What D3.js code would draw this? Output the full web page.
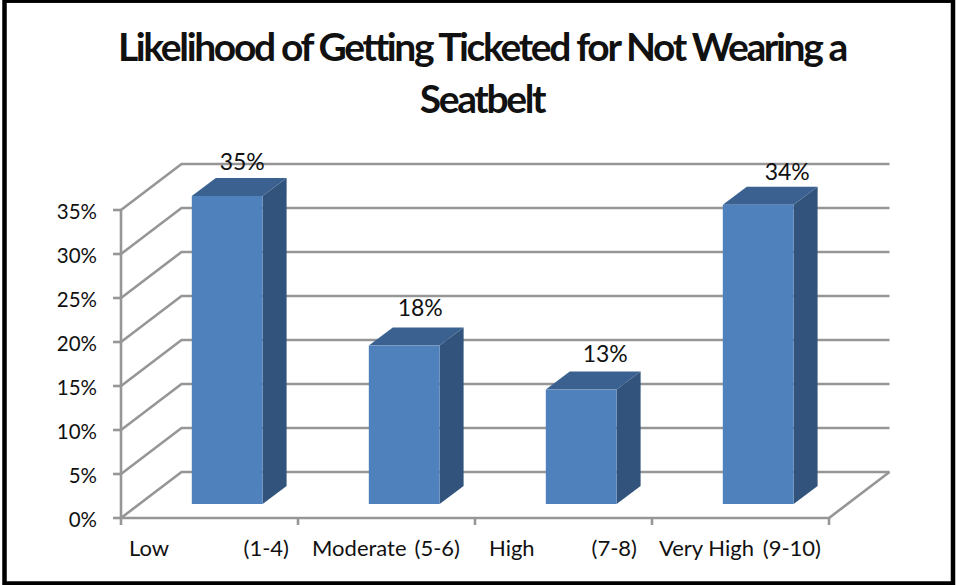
<!DOCTYPE html>
<html><head><meta charset="utf-8">
<script src="https://cdnjs.cloudflare.com/ajax/libs/d3/7.8.5/d3.min.js"></script>
<style>html,body{margin:0;padding:0;background:#fff}svg{display:block}text{font-family:Lato,"Open Sans",sans-serif;fill:#111}</style>
</head><body><svg id="c" width="956" height="585"></svg>
<script>
const categories=["Low","Moderate","High","Very High"];
const ranges=["(1-4)","(5-6)","(7-8)","(9-10)"];
const values=[35,18,13,34];
const valueLabels=["35%","18%","13%","34%"];
const tickValues=[0,5,10,15,20,25,30,35];
const titleLines=["Likelihood of Getting Ticketed for Not Wearing a","Seatbelt"];
const svg=d3.select("#c");
svg.append("rect").attr("x",4.5).attr("y",0.7).attr("width",948.5).attr("height",582.8).attr("fill","#fff").attr("stroke","#000").attr("stroke-width",4.5);
const x=d3.scaleBand().domain(categories).range([121,829]);
const y=d3.scaleLinear().domain([0,35]).range([518,210]);
const dx=60.5,dy=-46,grey="#969696";
const g=svg.append("g").attr("fill","none").attr("stroke",grey).attr("stroke-width",2.6);
tickValues.forEach(t=>{
  g.append("polyline").attr("points",`${x.range()[0]},${y(t)} ${x.range()[0]+dx},${y(t)+dy} ${x.range()[1]+dx},${y(t)+dy}`);
});
g.append("line").attr("x1",121).attr("x2",121).attr("y1",y(35)).attr("y2",y(0)+7);
g.append("line").attr("x1",121).attr("x2",829).attr("y1",y(0)).attr("y2",y(0));
g.append("line").attr("x1",829).attr("y1",y(0)).attr("x2",829+dx).attr("y2",y(0)+dy);
tickValues.forEach(t=>g.append("line").attr("x1",113).attr("x2",121).attr("y1",y(t)).attr("y2",y(t)));
categories.forEach(c=>g.append("line").attr("x1",x(c)+x.bandwidth()).attr("x2",x(c)+x.bandwidth()).attr("y1",y(0)).attr("y2",y(0)+7));
const bw=x.bandwidth()*0.4,bo=x.bandwidth()*0.4,ddx=24,ddy=-18,lift=14;
const labelNudgeX=[15,16,24,29],labelNudgeY=[8,12,10,7];
const catX=[129,312,489,659],rangeEndX=[289,460,637,821];
categories.forEach((c,i)=>{
  const x0=x(c)+bo,x1=x0+bw,yb=y(0)-lift,yt=y(values[i])-lift;
  svg.append("polygon").attr("points",`${x1},${yt} ${x1+ddx},${yt+ddy} ${x1+ddx},${yb+ddy} ${x1},${yb}`).attr("fill","#31537c");
  svg.append("polygon").attr("points",`${x0},${yt} ${x0+ddx},${yt+ddy} ${x1+ddx},${yt+ddy} ${x1},${yt}`).attr("fill","#3a6190");
  svg.append("rect").attr("x",x0).attr("y",yt).attr("width",bw).attr("height",yb-yt).attr("fill","#4f81bd");
  svg.append("text").attr("x",x0+bw/2+labelNudgeX[i]).attr("y",yt+ddy-labelNudgeY[i]).attr("text-anchor","middle").attr("font-size",23).text(valueLabels[i]);
  svg.append("text").attr("x",catX[i]).attr("y",556).attr("font-size",22).text(c);
  svg.append("text").attr("x",rangeEndX[i]).attr("y",556).attr("text-anchor","end").attr("font-size",22).text(ranges[i]);
});
tickValues.forEach(t=>svg.append("text").attr("x",97).attr("y",y(t)+8.5).attr("text-anchor","end").attr("font-size",20.5).text(t+"%"));
titleLines.forEach((l,i)=>svg.append("text").attr("x",482).attr("y",61+i*52).attr("text-anchor","middle").attr("font-size",39).attr("font-weight",700).attr("letter-spacing",-2.35).text(l));
</script></body></html>
